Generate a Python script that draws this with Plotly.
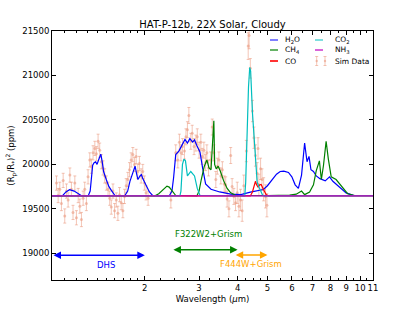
import math
import plotly.graph_objects as go

# ---------------- data ----------------
h2o = [(1.00, 19645), (1.08, 19645), (1.11, 19690), (1.14, 19715), (1.18, 19700), (1.22, 19665),
       (1.25, 19645), (1.31, 19645), (1.33, 19700), (1.355, 19990), (1.37, 20020), (1.385, 20030),
       (1.40, 20000), (1.42, 20060), (1.44, 20115), (1.455, 20030), (1.47, 19920), (1.50, 19830),
       (1.53, 19750), (1.56, 19705), (1.60, 19650), (1.72, 19645), (1.76, 19700), (1.79, 19810),
       (1.83, 19925), (1.86, 19980), (1.88, 19900), (1.90, 19830), (1.93, 19870), (1.95, 19885),
       (1.97, 19840), (2.00, 19790), (2.04, 19730), (2.07, 19690), (2.12, 19650), (2.18, 19645),
       (2.40, 19645), (2.45, 19700), (2.48, 19850), (2.52, 20110), (2.58, 20150), (2.64, 20220),
       (2.70, 20280), (2.75, 20240), (2.80, 20290), (2.86, 20250), (2.90, 20275), (2.96, 20200),
       (3.02, 20140), (3.08, 19960), (3.15, 19780), (3.28, 19720), (3.50, 19690), (3.80, 19665),
       (4.10, 19660), (4.40, 19688), (4.60, 19700), (4.85, 19718), (5.00, 19760), (5.15, 19820),
       (5.35, 19890), (5.50, 19920), (5.65, 19925), (5.85, 19910), (6.00, 19860), (6.15, 19770),
       (6.30, 19730), (6.45, 19880), (6.60, 20240), (6.72, 20030), (6.82, 20090), (6.92, 19940),
       (7.05, 19920), (7.20, 19870), (7.40, 19840), (7.70, 19815), (7.95, 19860), (8.15, 19810),
       (8.60, 19740), (9.00, 19680), (9.50, 19652), (11.0, 19650)]

ch4 = [(1.00, 19645), (2.15, 19645), (2.22, 19670), (2.30, 19720), (2.36, 19755), (2.40, 19745),
       (2.45, 19700), (2.52, 19650), (2.95, 19645), (3.00, 19700), (3.05, 19830), (3.12, 19980),
       (3.18, 20050), (3.23, 19960), (3.28, 19940), (3.32, 20200), (3.35, 20490), (3.37, 20000),
       (3.41, 19950), (3.46, 19980), (3.52, 19920), (3.60, 19820), (3.70, 19730), (3.80, 19680),
       (3.95, 19650), (5.00, 19648), (5.50, 19650), (5.90, 19655), (6.20, 19665), (6.45, 19700),
       (6.60, 19660), (6.85, 19690), (7.05, 19770), (7.20, 19930), (7.37, 20040), (7.48, 19830),
       (7.60, 19990), (7.75, 20260), (7.88, 20060), (8.05, 19860), (8.35, 19830), (8.70, 19750),
       (9.10, 19670), (9.60, 19650), (11.0, 19650)]

co = [(1.00, 19645), (4.40, 19645), (4.47, 19690), (4.53, 19780), (4.57, 19810), (4.61, 19770),
      (4.66, 19745), (4.72, 19770), (4.77, 19775), (4.85, 19720), (4.95, 19660), (5.05, 19645),
      (11.0, 19645)]

co2 = [(1.00, 19645), (2.05, 19645), (2.10, 19652), (2.15, 19645), (2.60, 19645), (2.62, 19700),
       (2.65, 20000), (2.68, 20060), (2.71, 20040), (2.75, 19870), (2.82, 19920), (2.90, 19870),
       (2.96, 19730), (3.02, 19650), (4.22, 19645), (4.25, 19800), (4.29, 20380), (4.34, 20870),
       (4.38, 21090), (4.41, 21050), (4.47, 20580), (4.57, 20030), (4.63, 19800), (4.70, 19740),
       (4.76, 19690), (4.82, 19655), (4.90, 19645), (11.0, 19645)]

nh3 = [(1.00, 19645), (11.0, 19645)]

# simulated data: (wavelength, value, error)
sim = [(1.034, 19790, 80), (1.047, 19650, 80), (1.060, 19720, 80), (1.073, 19560, 80),
       (1.087, 19820, 80), (1.100, 19420, 80), (1.114, 19700, 80), (1.128, 19600, 80),
       (1.143, 19880, 80), (1.156, 19720, 80), (1.170, 19460, 80), (1.186, 19790, 80),
       (1.200, 19400, 80), (1.216, 19650, 80), (1.231, 19530, 80), (1.246, 19380, 80),
       (1.262, 19620, 80), (1.277, 19720, 80), (1.293, 19560, 80), (1.309, 19860, 80),
       (1.326, 20050, 80), (1.342, 19980, 80), (1.359, 20130, 80), (1.377, 20180, 80),
       (1.393, 20120, 80), (1.411, 20260, 80), (1.428, 20160, 80), (1.446, 20030, 80),
       (1.464, 19960, 80), (1.482, 19870, 80), (1.501, 19790, 80), (1.520, 19720, 80),
       (1.539, 19620, 80), (1.557, 19520, 80), (1.577, 19700, 80), (1.596, 19480, 80),
       (1.616, 19600, 80), (1.636, 19450, 80), (1.656, 19660, 80), (1.677, 19570, 80),
       (1.698, 19480, 80), (1.719, 19640, 80), (1.740, 19760, 80), (1.762, 19830, 80),
       (1.784, 19940, 80), (1.806, 20050, 80), (1.829, 20110, 80), (1.851, 20000, 80),
       (1.875, 20090, 80), (1.898, 19920, 80), (1.921, 20010, 80), (1.946, 19870, 80),
       (1.970, 19920, 80), (1.994, 19790, 80), (2.019, 19680, 80), (2.050, 19620, 80),
       (2.43, 19600, 90), (2.52, 20130, 90), (2.56, 20050, 90), (2.59, 20250, 90),
       (2.62, 20130, 90), (2.65, 20200, 90), (2.69, 20150, 90), (2.72, 20310, 90),
       (2.75, 20390, 90), (2.78, 20550, 90), (2.82, 20260, 90), (2.85, 20350, 90),
       (2.89, 20200, 90), (2.93, 20240, 90), (2.96, 20310, 90), (3.00, 20160, 90),
       (3.04, 20250, 90), (3.07, 20090, 90), (3.11, 20160, 90), (3.15, 20020, 90),
       (3.18, 20130, 90), (3.22, 19960, 90), (3.27, 20050, 90), (3.31, 20420, 90),
       (3.35, 20130, 90), (3.40, 19830, 90), (3.44, 19980, 90), (3.48, 20050, 90),
       (3.53, 19870, 90), (3.57, 19940, 90), (3.62, 19780, 90), (3.66, 19770, 90),
       (3.70, 19610, 90), (3.75, 19500, 90), (3.80, 20100, 90), (3.84, 19750, 90),
       (3.89, 19640, 90), (3.94, 19570, 90),
       (3.99, 19680, 120), (4.04, 19530, 120), (4.09, 19600, 120), (4.14, 19480, 120),
       (4.19, 19760, 120), (4.27, 20150, 120), (4.33, 21330, 150), (4.36, 21450, 150),
       (4.40, 21080, 110), (4.47, 20600, 120), (4.52, 20300, 120), (4.57, 20100, 120),
       (4.63, 19900, 120), (4.66, 20180, 120), (4.69, 19770, 120), (4.75, 19950, 120),
       (4.80, 19830, 120), (4.86, 19720, 130), (4.93, 19640, 130), (4.98, 19540, 130)]

x_ticks = [2, 3, 4, 5, 6, 7, 8, 9, 10, 11]
x_ticklabels = [str(v) for v in x_ticks]
x_minor = ([round(1 + 0.1 * i, 2) for i in range(1, 10)] +
           [2.25, 2.5, 2.75, 3.25, 3.5, 3.75, 4.25, 4.5, 4.75] +
           [5.5, 6.5, 7.5, 8.5, 9.5, 10.5])
y_ticks = [19000, 19500, 20000, 20500, 21000, 21500]
y_ticklabels = [str(v) for v in y_ticks]

# instrument ranges: (label, start, end, arrow y, label x, label y, colour)
ranges = [("DHS", 1.0, 2.0, 18978, 1.5, 18873, "blue"),
          ("F322W2+Grism", 2.45, 4.0, 19040, 3.23, 19215, "green"),
          ("F444W+Grism", 3.9, 5.0, 18980, 4.43, 18882, "orange")]

series = [("H<sub>2</sub>O", h2o, "#0000ff"),
          ("CH<sub>4</sub>", ch4, "#008000"),
          ("CO", co, "#ff0000"),
          ("CO<sub>2</sub>", co2, "#00bfbf"),
          ("NH<sub>3</sub>", nh3, "#bf00bf")]

FONT = "DejaVu Sans"
err_col = "rgba(233,150,122,0.55)"

fig = go.Figure()
sw, sv, se = zip(*sim)
fig.add_trace(go.Scatter(x=sw, y=sv, mode="markers",
                         marker=dict(size=3, color=err_col),
                         error_y=dict(type="data", array=se, color=err_col,
                                      thickness=1, width=1.5),
                         showlegend=False, name="Sim Data"))
for name, pts, col in series:
    wl, val = zip(*pts)
    fig.add_trace(go.Scatter(x=wl, y=val, mode="lines", name=name,
                             line=dict(color=col, width=1.2), showlegend=False))

# instrument arrows and labels
for lab, x0, x1, ya, lx, ly, col in ranges:
    fig.add_annotation(x=math.log10(x1), y=ya, ax=math.log10(x0), ay=ya,
                       xref="x", yref="y", axref="x", ayref="y", text="",
                       showarrow=True, arrowhead=2, startarrowhead=2,
                       arrowside="end+start", arrowsize=1, startarrowsize=1,
                       arrowwidth=1.5, arrowcolor=col, standoff=0, startstandoff=0)
    fig.add_annotation(x=math.log10(lx), y=ly, xref="x", yref="y", text=lab,
                       showarrow=False, font=dict(family=FONT, size=8.5, color=col))

# manual legend (two columns)
L, R, T, B = 52, 373, 31, 280
def px(x):
    return (x - L) / (R - L)
def py(y):
    return (B - y) / (B - T)

leg_entries = [(series[0], 270, 283, 40), (series[1], 270, 283, 50), (series[2], 270, 283, 61),
               (series[3], 315, 333, 40), (series[4], 315, 333, 50)]
light = {"#0000ff": "rgba(0,0,255,0.5)", "#008000": "rgba(0,128,0,0.6)",
         "#ff0000": "rgba(255,0,0,0.8)", "#00bfbf": "rgba(0,191,191,0.5)",
         "#bf00bf": "rgba(191,0,191,0.6)"}
for (name, _, col), lx0, tx, yy in leg_entries:
    fig.add_shape(type="line", xref="paper", yref="paper", x0=px(lx0), x1=px(lx0 + 8),
                  y0=py(yy), y1=py(yy), line=dict(color=light[col], width=2))
    fig.add_annotation(x=px(tx), y=py(yy), xref="paper", yref="paper", text=name,
                       showarrow=False, xanchor="left", yanchor="middle",
                       font=dict(family=FONT, size=7.5, color="black"))
for bx in (316.7, 325.0):
    fig.add_shape(type="line", xref="paper", yref="paper", x0=px(bx), x1=px(bx),
                  y0=py(56.5), y1=py(65.5), line=dict(color=err_col, width=1))
    for cy in (56.5, 65.5):
        fig.add_shape(type="line", xref="paper", yref="paper", x0=px(bx - 1.5), x1=px(bx + 1.5),
                      y0=py(cy), y1=py(cy), line=dict(color=err_col, width=1))
    fig.add_shape(type="circle", xref="paper", yref="paper", x0=px(bx - 1.2), x1=px(bx + 1.2),
                  y0=py(62.2), y1=py(59.8), line=dict(width=0), fillcolor=err_col)
fig.add_annotation(x=px(333), y=py(61), xref="paper", yref="paper", text="Sim Data",
                   showarrow=False, xanchor="left", yanchor="middle",
                   font=dict(family=FONT, size=7.5, color="black"))

axis_common = dict(showline=True, linecolor="black", linewidth=1, mirror="ticks",
                   ticks="inside", ticklen=4, tickcolor="black", showgrid=False,
                   zeroline=False, automargin=False, tickangle=0,
                   tickfont=dict(family=FONT, size=8.5, color="black"))

fig.update_layout(
    width=415, height=312,
    margin=dict(l=L, r=415 - R, t=T, b=312 - B, autoexpand=False),
    paper_bgcolor="white", plot_bgcolor="white",
    title=dict(text="HAT-P-12b, 22X Solar, Cloudy", x=0.5, xref="paper",
               y=1 - 24 / 312, yref="container", yanchor="middle", xanchor="center",
               font=dict(family=FONT, size=10, color="black")),
    xaxis=dict(type="log", range=[0, math.log10(11)], tickmode="array",
               tickvals=x_ticks, ticktext=x_ticklabels,
               minor=dict(tickmode="array", tickvals=x_minor, ticks="inside",
                          ticklen=2, tickcolor="black"),
               title=dict(text="Wavelength (<i>μ</i>m)", standoff=3,
                          font=dict(family=FONT, size=8.5, color="black")),
               **axis_common),
    yaxis=dict(range=[18700, 21500], tickmode="array", tickvals=y_ticks,
               ticktext=y_ticklabels,
               title=dict(text="(R<sub>p</sub>/R<sub>*</sub>)<sup>2</sup> (ppm)", standoff=6,
                          font=dict(family=FONT, size=8.5, color="black")),
               **axis_common),
    showlegend=False,
)

fig.write_html("out.html", config={"displayModeBar": False},
               post_script="document.body.style.margin='0px';")
